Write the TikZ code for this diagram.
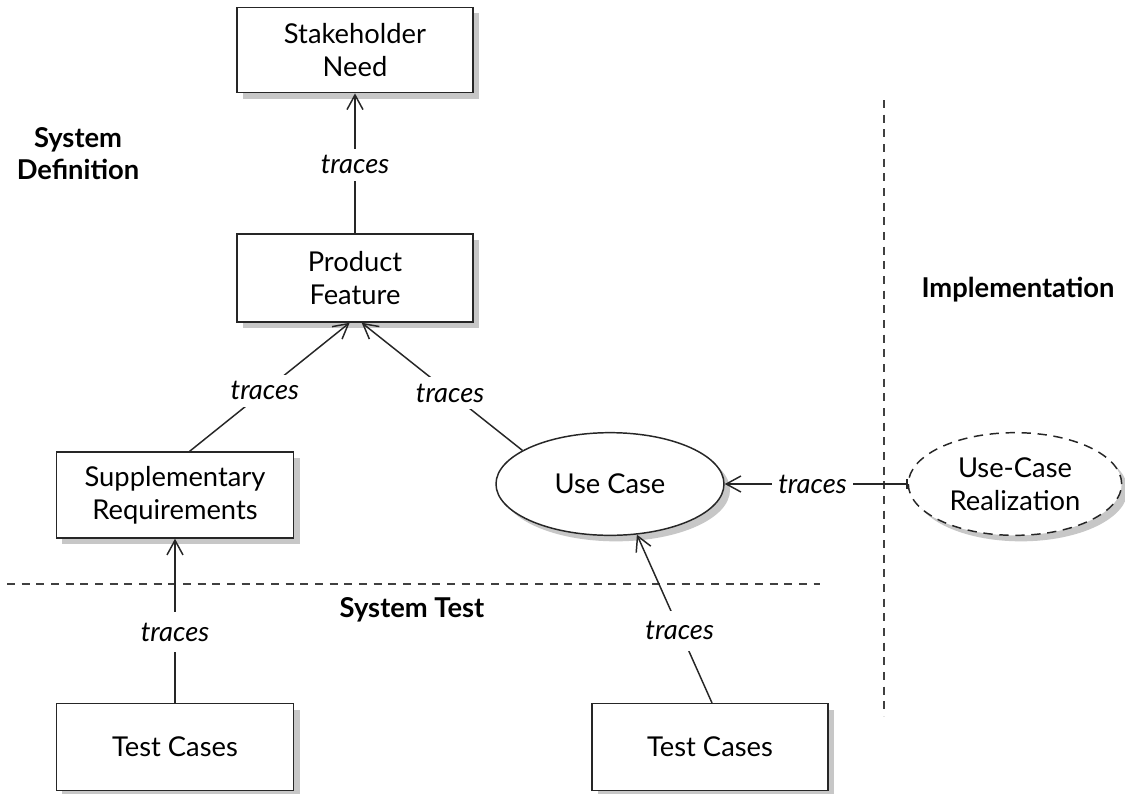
\documentclass[tikz,border=0pt]{standalone}
\usepackage{fontspec}
\setmainfont{Lato}
\usetikzlibrary{arrows.meta,shapes.geometric,shadows}
\begin{document}
\begin{tikzpicture}[x=0.75pt,y=-0.75pt,
  every node/.style={font=\fontsize{20.5}{25}\selectfont},
  line/.style={line width=1.1pt, draw=black!85},
  shad/.style={drop shadow={shadow xshift=4.5pt, shadow yshift=-4.5pt, fill=black!22, opacity=1}},
  box/.style={line, shad, fill=white, rectangle, align=center, minimum width=177pt, inner sep=0pt},
  usecase/.style={line, shad, fill=white, ellipse, align=center, inner sep=0pt},
  trace/.style={line, -{Straight Barb[length=11pt,width=12pt,line width=1.1pt]}},
  tlabel/.style={fill=white, inner sep=5pt, font=\fontsize{20.5}{25}\selectfont\itshape},
  region/.style={font=\fontsize{20.5}{24}\selectfont\bfseries, align=center},
  divider/.style={line width=1.1pt, draw=black!75, dash pattern=on 6pt off 5pt}
]
\useasboundingbox (0,0) rectangle (1125,793);
\fill[white] (0,0) rectangle (1125,793);

% dividers
\coordinate (hL) at (7,584);
\coordinate (hR) at (820,584);
\coordinate (vT) at (884,100);
\coordinate (vB) at (884,716);
\draw[divider] (hL) -- (hR);
\draw[divider] (vT) -- (vB);

% region labels
\node[region] (sysdef) at (78,154) {System\\Definition};
\node[region] (impl) at (1018,290) {Implementation};
\node[region] (systest) at (412,610) {System Test};

% nodes
\node[box, minimum height=64pt] (sn) at (355,50) {Stakeholder\\Need};
\node[box, minimum height=66pt] (pf) at (355,278) {Product\\Feature};
\node[box, minimum width=178pt, minimum height=64.5pt] (sr) at (175,495) {Supplementary\\Requirements};
\node[usecase, minimum width=171pt, minimum height=77pt] (uc) at (610,484) {Use Case};
\node[usecase, dashed, dash pattern=on 7pt off 5pt, minimum width=160pt, minimum height=77pt] (ucr) at (1015,484) {Use-Case\\Realization};
\node[box, minimum width=178pt, minimum height=65pt] (tc1) at (175,747) {Test Cases};
\node[box, minimum width=177pt, minimum height=65pt] (tc2) at (710,747) {Test Cases};

% connectors
\draw[trace] (pf.north) -- node[tlabel, pos=0.49] (l1) {traces} (sn.south);
\draw[trace] ([xshift=11pt]sr.north) -- node[tlabel, pos=0.47] (l2) {traces} ([xshift=-4pt]pf.south);
\draw[trace] (uc.159) -- node[tlabel, pos=0.45] (l3) {traces} ([xshift=5pt]pf.south);
\draw[trace, {Bar[width=7pt,line width=1.1pt]}-{Straight Barb[length=11pt,width=12pt,line width=1.1pt]}] (ucr.west) -- node[tlabel, pos=0.52] (l4) {traces} (uc.east);
\draw[trace] (tc1.north) -- node[tlabel, pos=0.43, inner ysep=8pt] (l5) {traces} (sr.south);
\draw[trace] ([xshift=1.5pt]tc2.north) -- node[tlabel, pos=0.43, inner ysep=8pt] (l6) {traces} (uc.-62);
\end{tikzpicture}
\end{document}
